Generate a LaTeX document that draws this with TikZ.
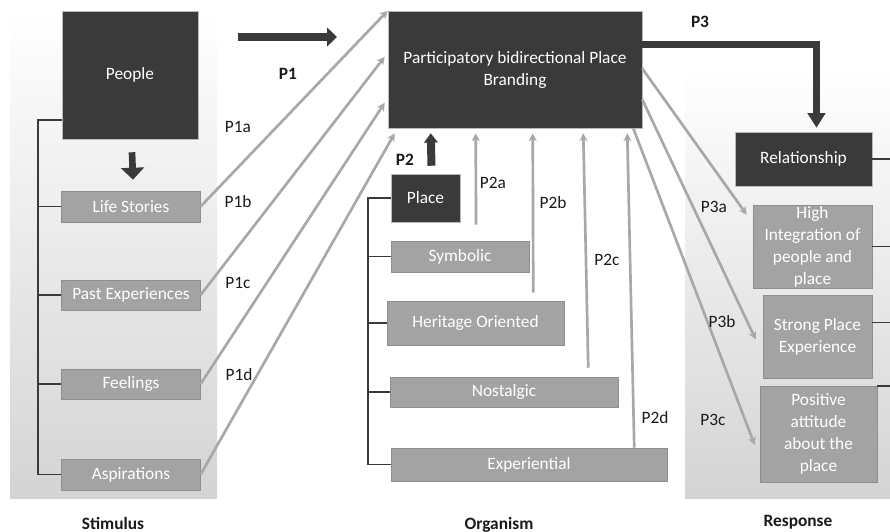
\documentclass[tikz,border=0pt]{standalone}
\usepackage{fontspec}
\setmainfont{Carlito}
\usetikzlibrary{positioning, arrows.meta, calc}
\definecolor{coal}{HTML}{3A3A3A}
\definecolor{stone}{HTML}{A3A3A3}
\definecolor{stonerim}{HTML}{8E8E8E}
\definecolor{wire}{HTML}{A8A8A8}
\definecolor{panel}{HTML}{D4D4D4}
\definecolor{ink}{HTML}{1A1A1A}

\begin{document}
\begin{tikzpicture}[x=0.75pt, y=-0.75pt,
  darkbox/.style={rectangle, draw=gray!55, fill=coal, text=white, align=center,
    inner sep=0pt, font=\fontsize{13}{16.5}\selectfont},
  greybox/.style={rectangle, draw=stonerim, fill=stone, text=white, align=center,
    inner sep=0pt, font=\fontsize{13}{16.5}\selectfont},
  tag/.style={text=ink, font=\fontsize{13}{15}\selectfont},
  bigtag/.style={text=ink, font=\bfseries\fontsize{13}{15}\selectfont},
  tree/.style={draw=coal, line width=1.4pt},
  link/.style={draw=wire, line width=2pt, -{Stealth[length=6pt, width=6pt]}},
  flow/.style={draw=coal, line width=5pt, -{Triangle[length=9pt, width=14pt]}},
  zone/.style={top color=white, bottom color=panel, draw=none}
]
\useasboundingbox[fill=white] (0,0) rectangle (890,532);

% panels
\path[zone] (10,10) rectangle (217,498);
\path[zone] (685,65) rectangle (890,498);

% stimulus
\node[darkbox, minimum width=102pt, minimum height=96pt] (people) at (130,75) {People};
\node[greybox, minimum width=104pt, minimum height=23.25pt] (life) at (131,206.5) {Life Stories};
\node[greybox, minimum width=104pt, minimum height=22.5pt] (past) at (131,295) {Past Experiences};
\node[greybox, minimum width=104pt, minimum height=22.5pt] (feel) at (131,384) {Feelings};
\node[greybox, minimum width=104pt, minimum height=23.25pt] (asp) at (131,474.5) {Aspirations};

% organism
\node[darkbox, minimum width=190.5pt, minimum height=87.75pt] (pb) at (515,69.5)
  {Participatory bidirectional Place\\Branding};
\node[darkbox, minimum width=51.75pt, minimum height=36pt] (place) at (425.5,198) {Place};
\node[greybox, minimum width=103.5pt, minimum height=23.25pt] (symb) at (460,256.5) {Symbolic};
\node[greybox, minimum width=132.75pt, minimum height=33pt] (herit) at (475.5,323) {Heritage Oriented};
\node[greybox, minimum width=171pt, minimum height=22.5pt] (nost) at (504,392) {Nostalgic};
\node[greybox, minimum width=207pt, minimum height=24.75pt] (expe) at (529,464.5) {Experiential};

% response
\node[darkbox, minimum width=102.75pt, minimum height=40.5pt] (rel) at (803.5,159) {Relationship};
\node[greybox, minimum width=89.25pt, minimum height=62.25pt] (integ) at (812.5,246.5)
  {High\\Integration of\\people and\\place};
\node[greybox, minimum width=81.75pt, minimum height=62.25pt] (strong) at (817.5,336.5)
  {Strong Place\\Experience};
\node[greybox, minimum width=87.75pt, minimum height=72pt] (posit) at (818.5,434)
  {Positive\\attitude\\about the\\place};

% trees
\coordinate (strunk) at (38,0);
\coordinate (otrunk) at (368,0);
\coordinate (ptap) at ($(people.south west)+(0,-19)$);
\draw[tree] (ptap) -- (ptap -| strunk) |- (asp.west);
\foreach \n in {life, past, feel}
  \draw[tree] (\n.west) -- (\n.west -| strunk);
\draw[tree] (place.west) -- (place.west -| otrunk) |- (expe.west);
\foreach \n in {symb, herit, nost}
  \draw[tree] (\n.west) -- (\n.west -| otrunk);
\draw[tree] (rel.east) -- ++(18,0);
\draw[tree] (integ.east) -- ++(18,0);
\draw[tree] ($(strong.east)+(0,-14)$) -- ++(18,0);
\draw[tree] (posit.north east) -- ++(13,0);

% thick arrows
\coordinate (p1from) at (238,37);
\coordinate (p1to) at (337,37);
\draw[flow, line width=6.5pt, -{Triangle[length=7.5pt, width=14pt]}] (p1from) -- (p1to);
\draw[flow, -{Triangle[length=9pt, width=17pt]}]
  ($(people.south)+(2,13)$) -- ($(life.north)+(2,-11)$);
\draw[flow, line width=6pt, -{Triangle[length=7pt, width=10pt]}]
  ($(place.north)+(6,-8)$) -- ($(pb.south west)+(43,5)$);
\draw[flow, -{Triangle[length=11pt, width=13pt]}]
  ($(pb.north east)+(0,34)$) -| ($(rel.north)+(13,-4)$);

% stimulus -> branding
\draw[link] (life.east) -- (pb.north west);
\draw[link] (past.east) -- ($(pb.north west)+(-3,46)$);
\draw[link] (feel.east) -- ($(pb.north west)+(-3,92)$);
\draw[link] (asp.east) -- ($(pb.south west)+(7,5)$);

% organism -> branding
\draw[link] ($(symb.north)+(16,-16)$) -- ($(pb.south west)+(88,5)$);
\draw[link] ($(herit.north east)+(-31,-8)$) -- ($(pb.south west)+(145,5)$);
\draw[link] ($(nost.north east)+(-30,-9)$) -- ($(pb.south east)+(-59,5)$);
\draw[link] ($(expe.north east)+(-33,0)$) -- ($(pb.south east)+(-15,5)$);

% branding -> response
\draw[link] ($(pb.east)+(0,-1)$) -- ($(integ.north west)+(-6,10)$);
\draw[link] ($(pb.east)+(0,30)$) -- ($(strong.west)+(-7,3)$);
\draw[link] ($(pb.south east)+(-9,0)$) -- ($(posit.west)+(-5,11)$);

% labels
\node[bigtag] (lp1) at (288,74) {P1};
\node[tag] (lp1a) at (238,127) {P1a};
\node[tag] (lp1b) at (238,202) {P1b};
\node[tag] (lp1c) at (238,283) {P1c};
\node[tag] (lp1d) at (239,375) {P1d};
\node[bigtag] (lp2) at (405,160) {P2};
\node[tag] (lp2a) at (493,183) {P2a};
\node[tag] (lp2b) at (553,203) {P2b};
\node[tag] (lp2c) at (607,260) {P2c};
\node[tag] (lp2d) at (655,418) {P2d};
\node[bigtag] (lp3) at (700,22) {P3};
\node[tag] (lp3a) at (714,207) {P3a};
\node[tag] (lp3b) at (722,322) {P3b};
\node[tag] (lp3c) at (713,420) {P3c};
\node[bigtag] (lstim) at (113,523) {Stimulus};
\node[bigtag] (lorg) at (499,525) {Organism};
\node[bigtag] (lresp) at (798,522) {Response};
\end{tikzpicture}
\end{document}
